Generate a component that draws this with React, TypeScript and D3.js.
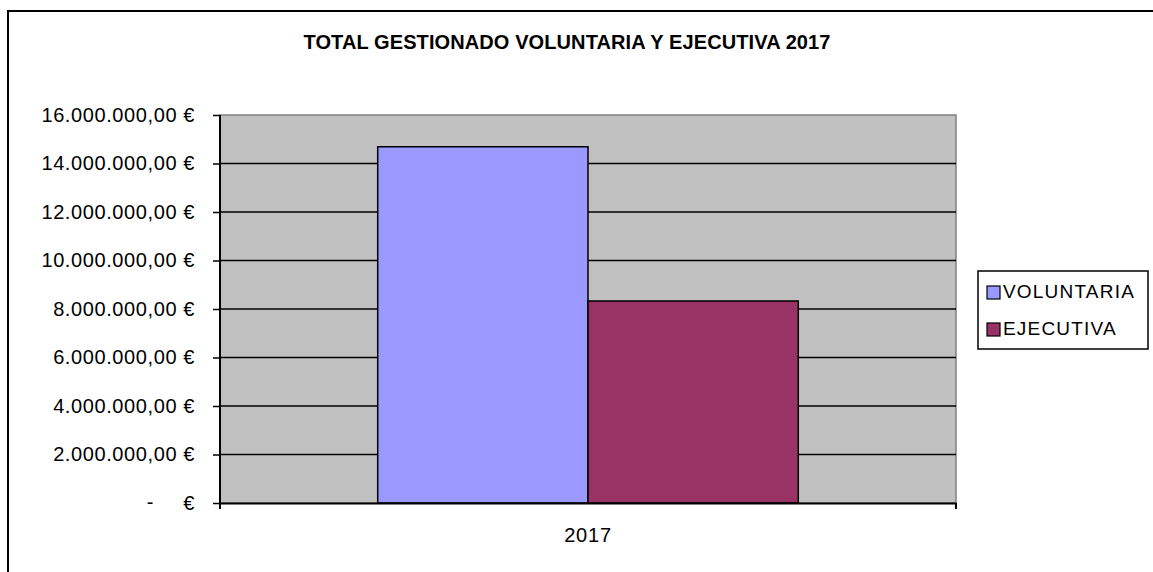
import { useEffect, useRef } from 'react';
import * as d3 from 'd3';

const title = 'TOTAL GESTIONADO VOLUNTARIA Y EJECUTIVA 2017';
const years = ['2017'];
const seriesNames = ['VOLUNTARIA', 'EJECUTIVA'];
const voluntaria = [14690000];
const ejecutiva = [8330000];
const seriesColors = ['#9999FF', '#993366'];
const yTicks = [0, 2000000, 4000000, 6000000, 8000000, 10000000, 12000000, 14000000, 16000000];

const locale = d3.formatLocale({
    decimal: ',',
    thousands: '.',
    grouping: [3],
    currency: ['', ' €'],
});
const fmt = locale.format('$,.2f');

const FONT = "Arial, 'Liberation Sans', sans-serif";

const App = () => {
    const svgRef = useRef<SVGSVGElement | null>(null);
    const width = 1153;
    const height = 572;
    const plot = { left: 220, right: 956, top: 115, bottom: 503 };

    useEffect(() => {
        const svg = d3.select(svgRef.current);
        svg.selectAll('*').remove();

        // outer chart frame (runs past the right and bottom edges)
        svg.append('rect')
            .attr('x', 8).attr('y', 11)
            .attr('width', 1170).attr('height', 600)
            .attr('fill', 'white').attr('stroke', 'black').attr('stroke-width', 2);

        svg.append('text')
            .text(title)
            .attr('x', 567).attr('y', 49)
            .attr('text-anchor', 'middle')
            .attr('font-family', FONT).attr('font-size', 20).attr('font-weight', 'bold')
            .attr('letter-spacing', 0.1);

        const y = d3.scaleLinear().domain([0, 16000000]).range([plot.bottom, plot.top]);
        const x0 = d3.scaleBand().domain(years).range([plot.left, plot.right]);
        const x1 = d3.scaleBand().domain(seriesNames).range([0, x0.bandwidth()])
            .paddingInner(0).paddingOuter(0.75);

        // plot background
        svg.append('rect')
            .attr('x', plot.left).attr('y', plot.top)
            .attr('width', plot.right - plot.left).attr('height', plot.bottom - plot.top)
            .attr('fill', '#C0C0C0').attr('stroke', '#808080').attr('stroke-width', 1.5);

        // gridlines
        svg.append('g').selectAll('line')
            .data(yTicks.filter(t => t > 0 && t < 16000000))
            .join('line')
            .attr('x1', plot.left).attr('x2', plot.right)
            .attr('y1', d => y(d)).attr('y2', d => y(d))
            .attr('stroke', 'black').attr('stroke-width', 1.5);

        const rows = years.map((yr, i) => ({ yr, values: [voluntaria[i], ejecutiva[i]] }));
        svg.append('g').selectAll('g')
            .data(rows)
            .join('g')
            .attr('transform', d => `translate(${x0(d.yr)},0)`)
            .selectAll('rect')
            .data(d => d.values.map((v, i) => ({ name: seriesNames[i], v, color: seriesColors[i] })))
            .join('rect')
            .attr('x', d => x1(d.name) as number)
            .attr('y', d => y(d.v))
            .attr('width', x1.bandwidth())
            .attr('height', d => y(0) - y(d.v))
            .attr('fill', d => d.color)
            .attr('stroke', 'black').attr('stroke-width', 1.5);

        // y axis
        const yAxis = svg.append('g')
            .attr('transform', `translate(${plot.left},0)`)
            .call(d3.axisLeft(y).tickValues(yTicks).tickSize(7).tickSizeOuter(0).tickPadding(18)
                .tickFormat(d => (+d === 0 ? '€' : fmt(+d))));
        yAxis.select('.domain').attr('stroke', 'black').attr('stroke-width', 2)
            .attr('d', `M0,${plot.top}V${plot.bottom + 6}`);
        yAxis.selectAll('.tick line').attr('stroke', 'black').attr('stroke-width', 1.5);
        yAxis.selectAll('.tick text')
            .attr('font-family', FONT).attr('font-size', 20).attr('letter-spacing', 0.6).attr('fill', 'black');
        yAxis.append('text')
            .text('-')
            .attr('x', -70).attr('y', y(0)).attr('dy', '0.32em')
            .attr('text-anchor', 'middle')
            .attr('font-family', FONT).attr('font-size', 20).attr('fill', 'black');

        // x axis
        const xAxis = svg.append('g')
            .attr('transform', `translate(0,${plot.bottom})`)
            .call(d3.axisBottom(x0).tickSize(0).tickSizeOuter(0).tickPadding(25));
        xAxis.select('.domain').attr('stroke', 'black').attr('stroke-width', 2);
        xAxis.selectAll('.tick text')
            .attr('font-family', FONT).attr('font-size', 20).attr('letter-spacing', 0.8).attr('fill', 'black');
        xAxis.selectAll('.edge')
            .data(x0.range())
            .join('line')
            .attr('x1', d => d).attr('x2', d => d)
            .attr('y1', 0).attr('y2', 6)
            .attr('stroke', 'black').attr('stroke-width', 2);

        // legend
        const legend = svg.append('g');
        legend.append('rect')
            .attr('x', 978).attr('y', 271).attr('width', 170).attr('height', 78)
            .attr('fill', 'white').attr('stroke', 'black').attr('stroke-width', 1.5);
        const items = legend.selectAll('g.item')
            .data(seriesNames)
            .join('g')
            .attr('transform', (d, i) => `translate(987,${286 + i * 37})`);
        items.append('rect')
            .attr('width', 13).attr('height', 13)
            .attr('fill', (d, i) => seriesColors[i])
            .attr('stroke', 'black').attr('stroke-width', 1.2);
        items.append('text')
            .text(d => d)
            .attr('x', 16).attr('y', 12)
            .attr('font-family', FONT).attr('font-size', 19).attr('letter-spacing', 1.2);
    }, []);

    return (
        <svg ref={svgRef} width={width} height={height}
            style={{ position: 'absolute', left: 0, top: 0, display: 'block' }}></svg>
    );
};

export default App;
